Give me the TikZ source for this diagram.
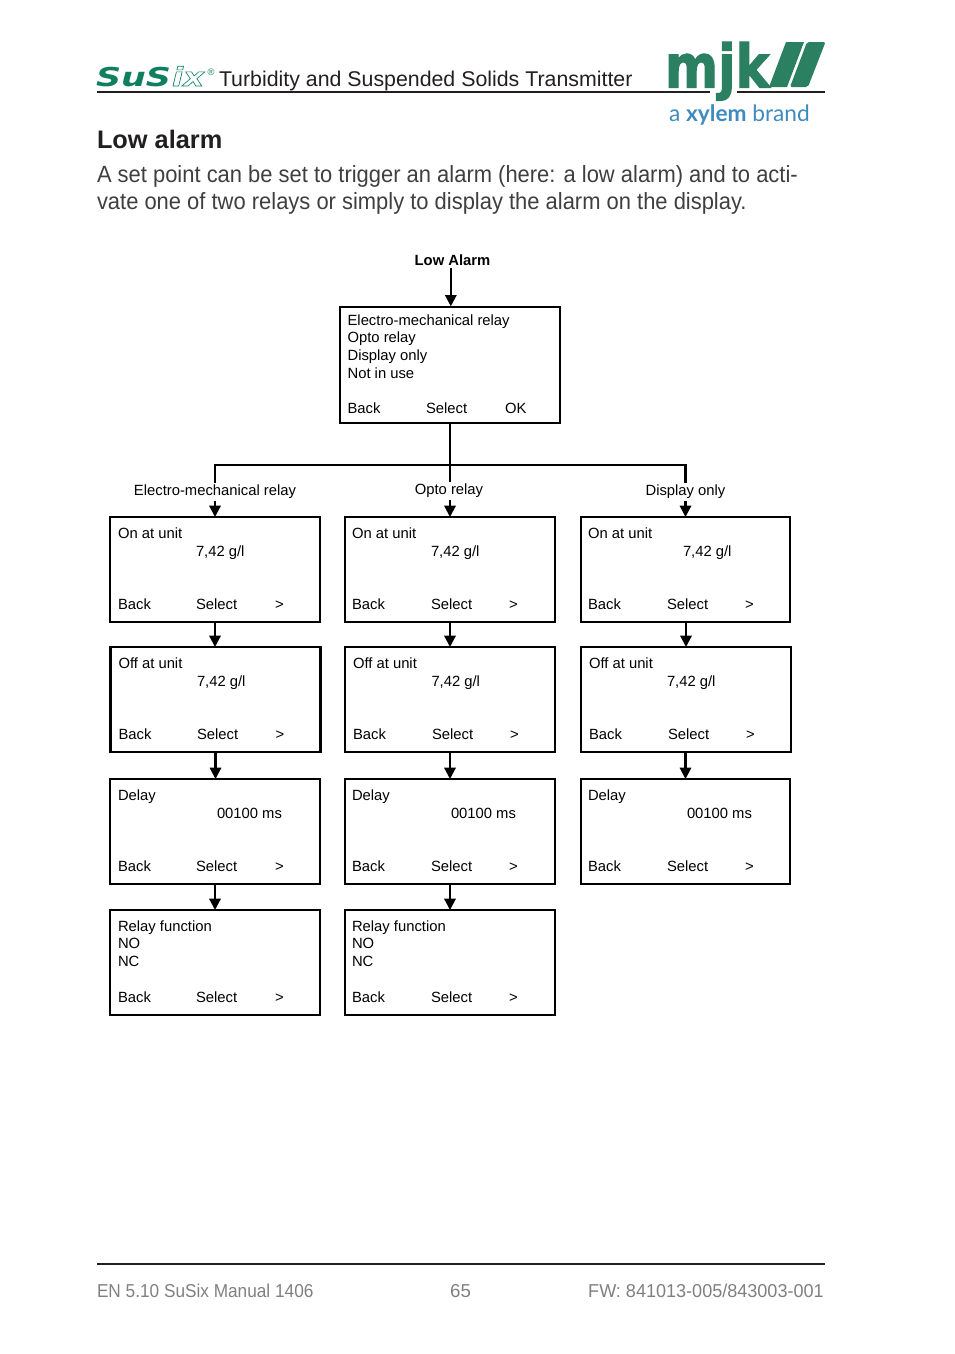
\documentclass[tikz,border=0pt]{standalone}
\usepackage{fontspec}
\setmainfont{Liberation Sans}
\newfontfamily\logofont{DejaVu Sans}
\newfontfamily\brandfont{Lato}
\usetikzlibrary{arrows.meta}
\definecolor{mjkgreen}{HTML}{2A8060}
\definecolor{susixgreen}{HTML}{0F7F5F}
\definecolor{brandblue}{HTML}{3E8BBF}
\definecolor{inkblack}{HTML}{231F20}
\definecolor{bodyink}{HTML}{403E3F}
\definecolor{footink}{HTML}{808082}
\newcommand{\outlined}[1]{\special{pdf:code 1 Tr 0.42 w}#1\special{pdf:code 0 Tr}}
\newcommand{\heavy}[1]{\special{pdf:code 2 Tr 0.9 w}#1\special{pdf:code 0 Tr}}
\tikzset{
  lcdbox/.style={draw=black,line width=1.65pt,fill=white,inner sep=0pt,outer sep=0pt},
  lcdtext/.style={anchor=base west,inner sep=0pt,outer sep=0pt,font=\fontsize{11.1pt}{13pt}\selectfont,text=black},
  caption/.style={inner sep=0pt,outer sep=0pt,anchor=base,fill=white,font=\fontsize{11.1pt}{13pt}\selectfont,text=black,text height=9pt,text depth=4.5pt},
  flow/.style={draw=black,line width=1.6pt},
  flowarrow/.style={flow,-{Triangle[width=8.5pt,length=8.5pt]}},
  plain/.style={anchor=base west,inner sep=0pt,outer sep=0pt}
}
\newcommand{\screen}[5]{\node[lcdbox,minimum width=#4*0.75pt,minimum height=#5*0.75pt] (#1) at (#2,#3) {};}
\newcommand{\ltext}[4]{\node[lcdtext] (#1) at (#2,#3) {#4};}
\begin{document}
\begin{tikzpicture}[x=0.75pt,y=-0.75pt]
\useasboundingbox (0,0) rectangle (954,1354);
% header
\node[plain,text=susixgreen,font=\logofont\fontsize{19.5pt}{20pt}\selectfont\bfseries\itshape] (susix) at (96,86) {\scalebox{1.34}[1]{SuS}};
\node[plain,text=susixgreen,font=\logofont\fontsize{19.5pt}{20pt}\selectfont\bfseries\itshape] (susixb) at (172,86) {\scalebox{1.25}[1]{\outlined{ix}}};
\node[plain,text=susixgreen,font=\fontsize{7pt}{7pt}\selectfont] (reg) at (207.5,75) {®};
\node[plain,text=inkblack,font=\fontsize{16pt}{18pt}\selectfont] (title) at (219,86) {Turbidity and Suspended Solids Transmitter};
\coordinate (hl) at (97,92); \coordinate (hm) at (710,92); \coordinate (hn) at (737,92); \coordinate (hr) at (825,92);
\draw[inkblack,line width=1.1pt] (hl) -- (hm) (hn) -- (hr);
% logo
\node[plain,text=mjkgreen,font=\logofont\fontsize{45pt}{45pt}\selectfont\bfseries] (mjk) at (665,87.5) {\scalebox{0.85}[1]{\heavy{mjk}}};
\fill[mjkgreen] (786,42) -- (804,42) -- (787,87) -- (769,87) -- cycle;
\fill[mjkgreen,rounded corners=1.5pt] (807,42) -- (825.5,42) -- (808,87) -- (790,87) -- cycle;
\node[plain,text=brandblue,font=\brandfont\fontsize{17pt}{18pt}\selectfont] (brand) at (669,121) {a \textbf{xylem} brand};
% headings
\node[plain,text=inkblack,font=\fontsize{19pt}{22pt}\selectfont\bfseries] (heading) at (97,148.5) {Low alarm};
\node[plain,text=bodyink,font=\fontsize{17.6pt}{22pt}\selectfont] (lineone) at (97,182.5) {\scalebox{0.935}[1]{A set point can be set to trigger an alarm (here: a low alarm) and to acti-}};
\node[plain,text=bodyink,font=\fontsize{17.6pt}{22pt}\selectfont] (linetwo) at (97,209) {\scalebox{0.935}[1]{vate one of two relays or simply to display the alarm on the display.}};
% top box
\node[caption,font=\fontsize{11.1pt}{13pt}\selectfont\bfseries,fill=none,text depth=2.5pt] (low) at (452.5,265) {Low Alarm};
\screen{top}{450}{365}{220}{116}
\ltext{ta}{347.6}{325}{Electro-mechanical relay}
\ltext{tb}{347.6}{342}{Opto relay}
\ltext{tc}{347.6}{360}{Display only}
\ltext{td}{347.6}{378}{Not in use}
\ltext{te}{347.6}{413}{Back}
\ltext{tf}{426}{413}{Select}
\ltext{tg}{505}{413}{OK}
% column 1
\screen{ca}{215}{569.5}{210}{105}
\ltext{ca1}{118}{538}{On at unit}\ltext{ca2}{196}{556}{7,42 g/l}\ltext{ca3}{118}{609}{Back}\ltext{ca4}{196}{609}{Select}\ltext{ca5}{275}{609}{>}
\screen{cb}{215.5}{699.5}{210}{105}
\ltext{cb1}{118.5}{668}{Off at unit}\ltext{cb2}{197}{686}{7,42 g/l}\ltext{cb3}{118.5}{739}{Back}\ltext{cb4}{197}{739}{Select}\ltext{cb5}{275.5}{739}{>}
\screen{cc}{215}{831.5}{210}{105}
\ltext{cc1}{118}{800}{Delay}\ltext{cc2}{217}{818}{00100 ms}\ltext{cc3}{118}{871}{Back}\ltext{cc4}{196}{871}{Select}\ltext{cc5}{275}{871}{>}
\screen{cd}{215}{962.5}{210}{105}
\ltext{cd1}{118}{931}{Relay function}\ltext{cd2}{118}{948}{NO}\ltext{cd3}{118}{966}{NC}\ltext{cd4}{118}{1002}{Back}\ltext{cd5}{196}{1002}{Select}\ltext{cd6}{275}{1002}{>}
% column 2
\screen{da}{450}{569.5}{210}{105}
\ltext{da1}{352}{538}{On at unit}\ltext{da2}{431}{556}{7,42 g/l}\ltext{da3}{352}{609}{Back}\ltext{da4}{431}{609}{Select}\ltext{da5}{509}{609}{>}
\screen{db}{450}{699.5}{210}{105}
\ltext{db1}{353}{668}{Off at unit}\ltext{db2}{431.5}{686}{7,42 g/l}\ltext{db3}{353}{739}{Back}\ltext{db4}{432}{739}{Select}\ltext{db5}{510}{739}{>}
\screen{dc}{450}{831.5}{210}{105}
\ltext{dc1}{352}{800}{Delay}\ltext{dc2}{451}{818}{00100 ms}\ltext{dc3}{352}{871}{Back}\ltext{dc4}{431}{871}{Select}\ltext{dc5}{509}{871}{>}
\screen{dd}{450}{962.5}{210}{105}
\ltext{dd1}{352}{931}{Relay function}\ltext{dd2}{352}{948}{NO}\ltext{dd3}{352}{966}{NC}\ltext{dd4}{352}{1002}{Back}\ltext{dd5}{431}{1002}{Select}\ltext{dd6}{509}{1002}{>}
% column 3
\screen{ea}{685.5}{569.5}{209}{105}
\ltext{ea1}{588}{538}{On at unit}\ltext{ea2}{683}{556}{7,42 g/l}\ltext{ea3}{588}{609}{Back}\ltext{ea4}{667}{609}{Select}\ltext{ea5}{745}{609}{>}
\screen{eb}{686}{699.5}{210}{105}
\ltext{eb1}{589}{668}{Off at unit}\ltext{eb2}{667}{686}{7,42 g/l}\ltext{eb3}{589}{739}{Back}\ltext{eb4}{668}{739}{Select}\ltext{eb5}{746}{739}{>}
\screen{ec}{685.5}{831.5}{209}{105}
\ltext{ec1}{588}{800}{Delay}\ltext{ec2}{687}{818}{00100 ms}\ltext{ec3}{588}{871}{Back}\ltext{ec4}{667}{871}{Select}\ltext{ec5}{745}{871}{>}
% connectors
\coordinate (hub) at (450,465);
\draw[flowarrow] (top.north |- low.south) ++(0.8,0) -- ++(0,38);
\draw[flowarrow] (top.south) -- (hub) -- (da.north);
\draw[flowarrow] (hub) -| (ca.north);
\draw[flowarrow] (hub) -| (ea.north);
\node[caption] (capa) at (215,495) {Electro-mechanical relay};
\node[caption] (capb) at (449,494) {Opto relay};
\node[caption] (capc) at (685.5,495) {Display only};
\draw[flowarrow] (ca.south) -- (cb.north -| ca.south);
\draw[flowarrow] (cb.south) -- (cc.north -| cb.south);
\draw[flowarrow] (cc.south) -- (cd.north);
\draw[flowarrow] (da.south) -- (db.north);
\draw[flowarrow] (db.south) -- (dc.north);
\draw[flowarrow] (dc.south) -- (dd.north);
\draw[flowarrow] (ea.south) ++(0.5,0) -- (eb.north);
\draw[flowarrow] (eb.south) ++(-0.5,0) -- (ec.north);
% footer
\coordinate (fl) at (97,1264); \coordinate (fr) at (825,1264);
\draw[inkblack,line width=1.1pt] (fl) -- (fr);
\node[plain,text=footink,font=\fontsize{14pt}{16pt}\selectfont] (fa) at (97,1297) {\scalebox{0.923}[1]{EN 5.10 SuSix Manual 1406}};
\node[anchor=base,inner sep=0pt,text=footink,font=\fontsize{14pt}{16pt}\selectfont] (fb) at (460.5,1297) {65};
\node[anchor=base east,inner sep=0pt,text=footink,font=\fontsize{14pt}{16pt}\selectfont] (fc) at (824,1297) {\scalebox{0.967}[1]{FW: 841013-005/843003-001}};
\end{tikzpicture}
\end{document}
